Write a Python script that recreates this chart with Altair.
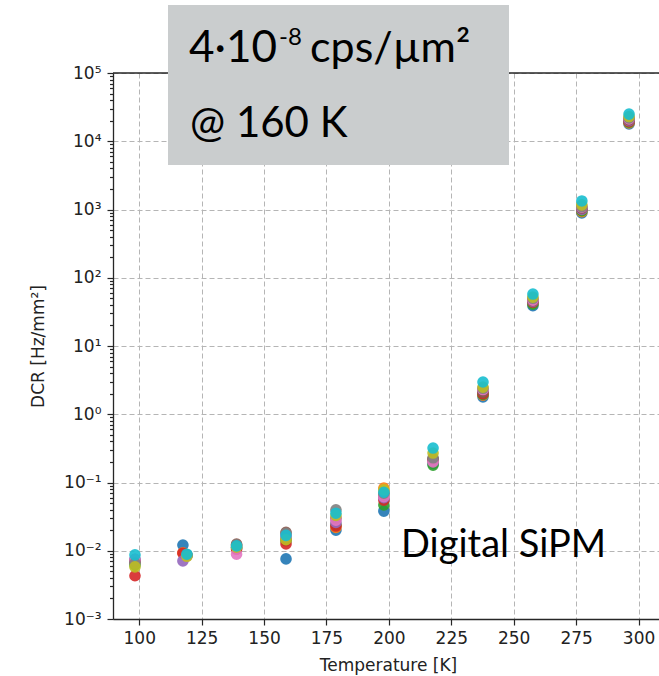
import altair as alt
import pandas as pd

# ---- data ----
series = ["S1", "S2", "S3", "S4", "S5", "S6", "S7", "S8", "S9", "S10"]
colors = ["#1f77b4", "#ff7f0e", "#2ca02c", "#d62728", "#9467bd",
          "#8c564b", "#e377c2", "#7f7f7f", "#bcbd22", "#17becf"]

temps = [98.3, 117.5, 139.0, 158.8, 178.8, 198.0, 217.7, 237.7, 257.7, 277.3, 296.2]
# second temperature point differs slightly between series
temp2 = [117.5, 117.5, 119.1, 117.5, 117.5, 119.1, 119.1, 119.1, 119.1, 119.1]

# DCR [Hz/mm^2] per series (rows) at each temperature (columns)
dcr = [
    [0.0075, 0.0121, 0.0112, 0.0076, 0.020, 0.038, 0.19, 1.80, 39, 890, 17900],
    [0.0068, 0.0093, 0.0120, 0.0150, 0.022, 0.083, 0.21, 1.90, 42, 930, 18500],
    [0.0062, 0.0085, 0.0110, 0.0140, 0.024, 0.047, 0.18, 1.95, 41, 960, 19000],
    [0.0043, 0.0092, 0.0105, 0.0126, 0.023, 0.055, 0.22, 2.00, 44, 1020, 19500],
    [0.0072, 0.0071, 0.0115, 0.0160, 0.026, 0.060, 0.21, 2.20, 45, 1000, 20000],
    [0.0070, 0.0086, 0.0125, 0.0186, 0.030, 0.065, 0.22, 2.10, 46, 1050, 20500],
    [0.0074, 0.0084, 0.0089, 0.0170, 0.028, 0.062, 0.20, 2.30, 47, 1080, 21300],
    [0.0066, 0.0087, 0.0122, 0.0180, 0.0397, 0.070, 0.23, 2.40, 50, 1100, 22000],
    [0.0058, 0.0083, 0.0113, 0.0145, 0.033, 0.078, 0.27, 2.50, 52, 1170, 23000],
    [0.0087, 0.0089, 0.0118, 0.0168, 0.0355, 0.072, 0.32, 2.97, 57.7, 1333, 25000],
]

x_ticks = [100, 125, 150, 175, 200, 225, 250, 275, 300]
y_exps = [-3, -2, -1, 0, 1, 2, 3, 4, 5]
y_tick_labels = ["10⁻³", "10⁻²", "10⁻¹", "10⁰", "10¹", "10²", "10³", "10⁴", "10⁵"]

rows = []
for si, name in enumerate(series):
    for ti, t in enumerate(temps):
        tt = temp2[si] if ti == 1 else t
        rows.append({"series": name, "T": tt, "DCR": dcr[si][ti]})
df = pd.DataFrame(rows)

# ---- axes ----
W, H = 546, 546
y_values = []
for e in y_exps:
    y_values.append(10.0 ** e)
    if e < y_exps[-1]:
        for m in range(2, 10):
            y_values.append(m * 10.0 ** e)

is_decade = "abs(log(datum.value)/LN10 - round(log(datum.value)/LN10)) < 0.001"
label_expr = "''"
for e, lab in reversed(list(zip(y_exps, y_tick_labels))):
    label_expr = f"abs(log(datum.value)/LN10 - ({e})) < 0.001 ? '{lab}' : " + label_expr

x_axis = alt.Axis(values=x_ticks, title="Temperature [K]", tickSize=6,
                  labelPadding=5, titleX=275, titleY=51, titleBaseline="alphabetic",
                  titleAnchor="middle", titleAlign="center")
y_axis = alt.Axis(values=y_values, labelExpr=label_expr, title="DCR [Hz/mm²]",
                  tickSize={"condition": {"test": is_decade, "value": 6}, "value": 3.5},
                  gridOpacity={"condition": {"test": is_decade, "value": 1}, "value": 0},
                  labelPadding=6, titleX=-75, titleY=273, titleAngle=270,
                  titleAlign="center", titleBaseline="middle")

points = alt.Chart(df).mark_circle(size=135, opacity=0.9).encode(
    x=alt.X("T:Q", scale=alt.Scale(domain=[89.5, 308.2], nice=False, zero=False), axis=x_axis),
    y=alt.Y("DCR:Q", scale=alt.Scale(type="log", domain=[1e-3, 1e5], nice=False), axis=y_axis),
    color=alt.Color("series:N", scale=alt.Scale(domain=series, range=colors), legend=None),
)

one = alt.Chart(pd.DataFrame({"a": [0]}))
top_spine = one.mark_rule(color="#262626", strokeWidth=1.3).encode(
    x=alt.value(0), x2=alt.value(W), y=alt.value(0))
box = one.mark_rect(color="#cacdce").encode(
    x=alt.value(55), x2=alt.value(396), y=alt.value(-68), y2=alt.value(92))
t1 = one.mark_text(text="4·10", font="Lato", fontSize=44, align="right",
                   baseline="alphabetic", color="black").encode(x=alt.value(164), y=alt.value(-11))
t1s = one.mark_text(text="-8", font="Lato", fontSize=24, align="left",
                    baseline="alphabetic", color="black").encode(x=alt.value(166), y=alt.value(-28))
t1b = one.mark_text(text="cps/µm²", font="Lato", fontSize=43, align="left",
                    baseline="alphabetic", color="black").encode(x=alt.value(197), y=alt.value(-11))
t2 = one.mark_text(text="@ 160 K", font="Lato", fontSize=42, align="left",
                   baseline="alphabetic", color="black").encode(x=alt.value(77), y=alt.value(64))
t3 = one.mark_text(text="Digital SiPM", font="Lato", fontSize=38, align="left",
                   baseline="alphabetic", color="black").encode(x=alt.value(288), y=alt.value(484))

chart = alt.layer(points, top_spine, box, t1, t1s, t1b, t2, t3).properties(
    width=W, height=H,
    autosize=alt.AutoSizeParams(type="none"),
    padding={"left": 113, "top": 73, "right": 0, "bottom": 57},
    background="white",
).configure_view(stroke=None).configure_axis(
    labelFont="DejaVu Sans", labelFontSize=17, labelColor="#222222",
    titleFont="DejaVu Sans", titleFontSize=17, titleFontWeight="normal", titleColor="#222222",
    domainColor="#262626", domainWidth=1.3, tickColor="#262626", tickWidth=1.2,
    gridColor="#b5b5b5", gridDash=[5, 3], gridWidth=1,
)

chart.save("out.html", embed_options={"renderer": "svg", "actions": False})
